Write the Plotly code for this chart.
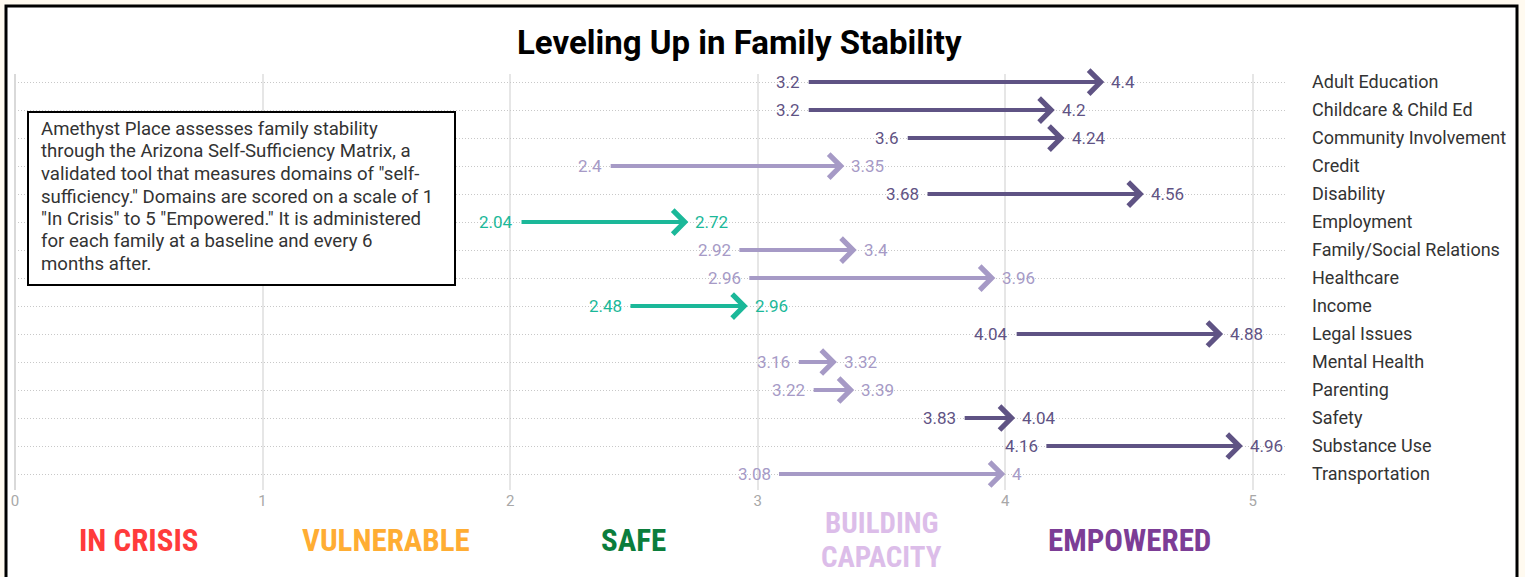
import plotly.graph_objects as go

categories = ["Adult Education", "Childcare & Child Ed", "Community Involvement", "Credit",
              "Disability", "Employment", "Family/Social Relations", "Healthcare", "Income",
              "Legal Issues", "Mental Health", "Parenting", "Safety", "Substance Use",
              "Transportation"]
baseline = [3.2, 3.2, 3.6, 2.4, 3.68, 2.04, 2.92, 2.96, 2.48, 4.04, 3.16, 3.22, 3.83, 4.16, 3.08]
latest = [4.4, 4.2, 4.24, 3.35, 4.56, 2.72, 3.4, 3.96, 2.96, 4.88, 3.32, 3.39, 4.04, 4.96, 4]

level_names = ["IN CRISIS", "VULNERABLE", "SAFE", "BUILDING<br>CAPACITY", "EMPOWERED"]
level_values = [1, 2, 3, 4, 5]
level_colors = ["#ff3b3b", "#ffad33", "#0b7d3c", "#dcbde9", "#7c3d96"]

x_ticks = [0, 1, 2, 3, 4, 5]

title = "Leveling Up in Family Stability"
note_lines = [
    "Amethyst Place assesses family stability",
    "through the Arizona Self-Sufficiency Matrix, a",
    "validated tool that measures domains of \"self-",
    "sufficiency.\" Domains are scored on a scale of 1",
    "\"In Crisis\" to 5 \"Empowered.\" It is administered",
    "for each family at a baseline and every 6",
    "months after.",
]

DARK = "#5f5384"
LIGHT = "#a69ac6"
TEAL = "#1bb899"


# pixel helpers for the plot area (top 74, bottom 490, left 15, width 1270)
def py(pix):
    return (490 - pix) / 416


def px(pix):
    return (pix - 15) / 1270


def color_for(v):
    if v < 3:
        return TEAL
    if v <= 4:
        return LIGHT
    return DARK


def fmt(v):
    return f"{v:g}"


fig = go.Figure()
fig.add_trace(go.Scatter(x=baseline, y=categories, mode="markers",
                         marker=dict(size=1, opacity=0), hoverinfo="skip", showlegend=False))
fig.add_trace(go.Scatter(x=latest, y=categories, mode="markers",
                         marker=dict(size=1, opacity=0), hoverinfo="skip", showlegend=False))

annotations = []
for cat, s, e in zip(categories, baseline, latest):
    c = color_for(e)
    annotations.append(dict(x=e, y=cat, ax=s, ay=cat, xref="x", yref="y", axref="x", ayref="y",
                            text="", showarrow=True, arrowhead=4, arrowwidth=4, arrowsize=1.15,
                            arrowcolor=c, standoff=0, startstandoff=0))
    annotations.append(dict(x=s, y=cat, xref="x", yref="y", text=fmt(s), showarrow=False,
                            xanchor="right", xshift=-5, font=dict(size=17, color=c, family="Roboto")))
    annotations.append(dict(x=e, y=cat, xref="x", yref="y", text=fmt(e), showarrow=False,
                            xanchor="left", xshift=5, font=dict(size=17, color=c, family="Roboto")))

for name, v, c in zip(level_names, level_values, level_colors):
    lines = name.split("<br>")
    n = len(lines)
    size = 31 if n == 1 else 29
    for i, line in enumerate(lines):
        ypix = 540 + (i - (n - 1) / 2) * 34
        annotations.append(dict(x=v - 0.5, y=py(ypix), xref="x", yref="paper", text=line,
                                showarrow=False, xanchor="center", yanchor="middle",
                                font=dict(size=size, color=c, weight="bold",
                                          family="Liberation Sans Narrow, Roboto Condensed, Roboto")))

for i, line in enumerate(note_lines):
    annotations.append(dict(x=px(39), y=py(129 + i * 22.5), xref="paper", yref="paper",
                            text=line, showarrow=False, xanchor="left", yanchor="middle", align="left",
                            font=dict(size=18.6, color="#333333", family="Roboto")))

annotations.append(dict(x=px(739), xref="paper", y=py(42), yref="paper", text="<b>" + title + "</b>",
                        showarrow=False, xanchor="center", yanchor="middle",
                        font=dict(size=33, color="#000000", family="Roboto")))

shapes = [
    dict(type="rect", xref="paper", yref="paper",
         x0=px(6), x1=px(1517), y0=py(600), y1=py(6),
         fillcolor="white", line=dict(color="#000000", width=3), layer="below"),
    dict(type="rect", xref="paper", yref="paper",
         x0=px(28), x1=px(455), y0=py(285), y1=py(112),
         fillcolor="white", line=dict(color="#000000", width=2), layer="above"),
]

fig.update_layout(
    width=1525, height=577,
    margin=dict(l=15, r=240, t=74, b=87),
    paper_bgcolor="#fffaf0",
    plot_bgcolor="white",
    showlegend=False,
    annotations=annotations,
    shapes=shapes,
    xaxis=dict(range=[0, 5.13], tickvals=x_ticks, showgrid=True, gridcolor="#e6e6e6", gridwidth=1.5,
               zeroline=True, zerolinecolor="#d9d9d9", zerolinewidth=2, showline=False,
               tickfont=dict(size=15, color="#a8a8a8", family="Roboto"), ticks="", fixedrange=True),
    yaxis=dict(type="category", categoryorder="array", categoryarray=categories,
               range=[14.57, -0.29], side="right", showgrid=True, gridcolor="#c8c8c8",
               griddash="1px,2px", gridwidth=1, zeroline=False, ticks="", ticklabelstandoff=26,
               tickfont=dict(size=18, color="#333333", family="Roboto")),
)

fig.write_html("out.html", config={"displayModeBar": False},
               post_script="document.body.style.margin='0';document.body.style.background='#fffaf0';")
